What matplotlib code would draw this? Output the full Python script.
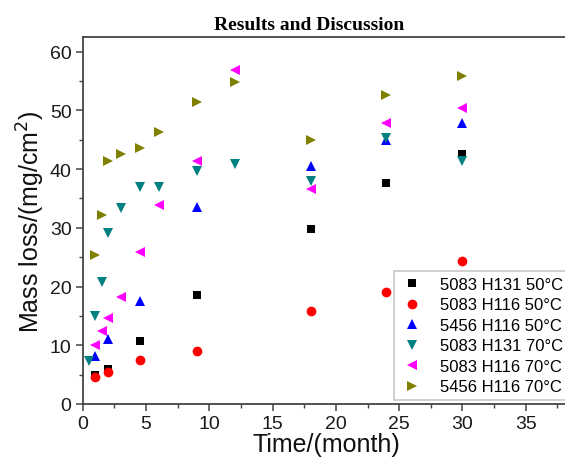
import matplotlib
matplotlib.use('Agg')
import matplotlib.pyplot as plt
from matplotlib.ticker import MultipleLocator

plt.rcParams['font.family'] = 'Liberation Sans'

# ── Data ──
t_5083_h131_50 = [1, 2, 4.5, 9, 18, 24, 30]
m_5083_h131_50 = [5.0, 6.0, 10.7, 18.6, 29.8, 37.7, 42.5]

t_5083_h116_50 = [1, 2, 4.5, 9, 18, 24, 30]
m_5083_h116_50 = [4.6, 5.5, 7.5, 9.0, 15.9, 19.0, 24.3]

t_5456_h116_50 = [1, 2, 4.5, 9, 18, 24, 30]
m_5456_h116_50 = [8.1, 11.0, 17.5, 33.5, 40.5, 44.9, 47.9]

t_5083_h131_70 = [0.5, 1, 1.5, 2, 3, 4.5, 6, 9, 12, 18, 24, 30]
m_5083_h131_70 = [7.4, 14.9, 20.8, 29.1, 33.4, 37.0, 37.0, 39.7, 40.9, 38.0, 45.3, 41.4]

t_5083_h116_70 = [1, 1.5, 2, 3, 4.5, 6, 9, 12, 18, 24, 30]
m_5083_h116_70 = [10.1, 12.4, 14.7, 18.2, 25.9, 33.9, 41.3, 56.8, 36.6, 47.8, 50.4]

t_5456_h116_70 = [1, 1.5, 2, 3, 4.5, 6, 9, 12, 18, 24, 30]
m_5456_h116_70 = [25.3, 32.2, 41.3, 42.6, 43.6, 46.4, 51.5, 54.9, 45.0, 52.6, 55.8]

labels = ['5083 H131 50°C', '5083 H116 50°C', '5456 H116 50°C',
          '5083 H131 70°C', '5083 H116 70°C', '5456 H116 70°C']

series = [
    (t_5083_h131_50, m_5083_h131_50, 's', 'black', 6),
    (t_5083_h116_50, m_5083_h116_50, 'o', 'red', 7),
    (t_5456_h116_50, m_5456_h116_50, '^', 'blue', 7.5),
    (t_5083_h131_70, m_5083_h131_70, 'v', '#008080', 7.5),
    (t_5083_h116_70, m_5083_h116_70, '<', 'magenta', 7.5),
    (t_5456_h116_70, m_5456_h116_70, '>', '#808000', 7.5),
]

fig = plt.figure(figsize=(5.65, 4.64), dpi=100)
ax = fig.add_axes([0.1464, 0.1272, 0.8625, 0.791])

for (t, m, mk, col, ms), lab in zip(series, labels):
    ax.plot(t, m, linestyle='none', marker=mk, color=col, markersize=ms,
            markeredgewidth=0, label=lab)

ax.set_xlim(0, 38.5)
ax.set_ylim(0, 62.5)
ax.xaxis.set_major_locator(MultipleLocator(5))
ax.xaxis.set_minor_locator(MultipleLocator(2.5))
ax.yaxis.set_major_locator(MultipleLocator(10))
ax.yaxis.set_minor_locator(MultipleLocator(5))

for s in ax.spines.values():
    s.set_color('#444444')
    s.set_linewidth(1.3)
ax.spines['right'].set_visible(False)

ax.tick_params(which='both', direction='out', colors='#444444', labelcolor='#1a1a1a')
ax.tick_params(which='major', length=5, width=1.1, labelsize=14, pad=3)
ax.tick_params(which='minor', length=3, width=1.0)
ax.tick_params(axis='y', which='both', right=False)

ax.set_xlabel('Time/(month)', fontsize=18, color='#111111', labelpad=0)
ax.set_ylabel('Mass loss/(mg/cm$^2$)', fontsize=18, color='#111111', labelpad=2)

fig.text(0.547, 0.945, 'Results and Discussion', ha='center', va='center',
         fontsize=14, fontweight='bold', family='Liberation Serif')

leg = ax.legend(loc='upper left', bbox_to_anchor=(0.639, 0.362),
                borderaxespad=0, fontsize=12, frameon=True, fancybox=False,
                labelspacing=0.33, handletextpad=0.9, borderpad=0.35,
                handlelength=1.5)
leg.get_frame().set_edgecolor('#bbbbbb')
leg.get_frame().set_linewidth(1.2)

fig.savefig('out.png', dpi=100)
